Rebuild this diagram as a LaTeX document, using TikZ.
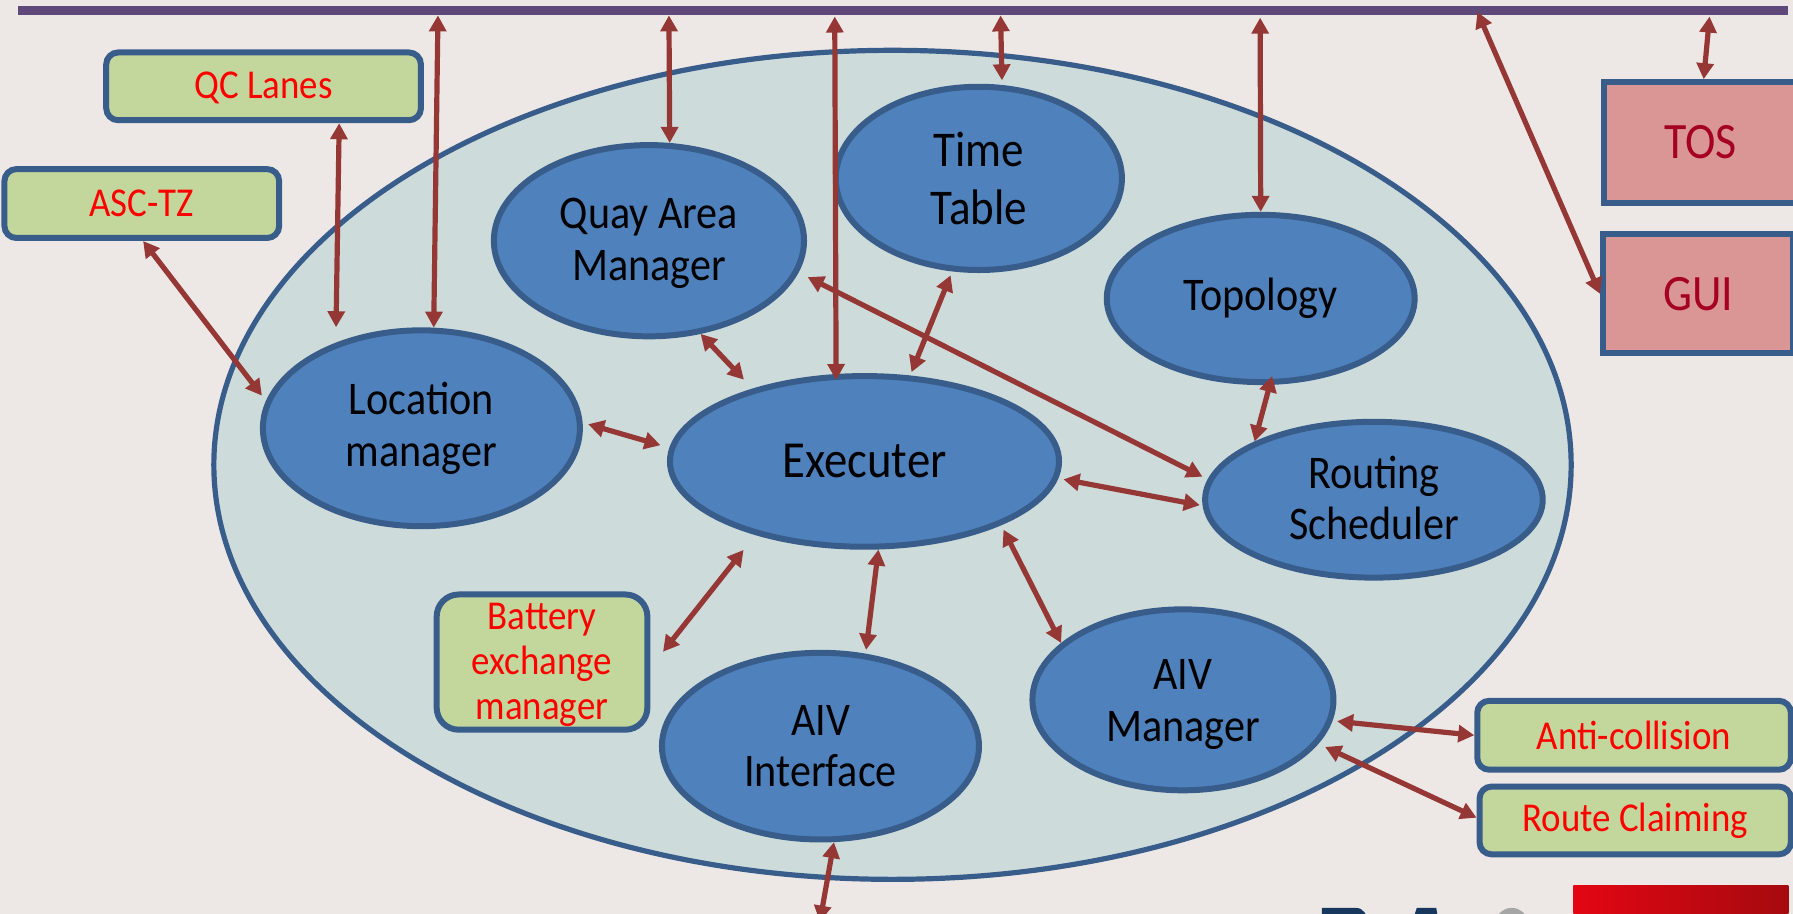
\documentclass[tikz,border=0pt]{standalone}
\usepackage{fontspec}
\setmainfont[FakeStretch=0.9]{Carlito}
\usetikzlibrary{shapes.geometric,arrows.meta,calc}
\definecolor{bgc}{HTML}{EDE8E6}
\definecolor{sysfill}{HTML}{CEDBDB}
\definecolor{edgeblue}{HTML}{385D8A}
\definecolor{modfill}{HTML}{4F81BD}
\definecolor{greenfill}{HTML}{C3D69B}
\definecolor{pinkfill}{HTML}{D99694}
\definecolor{pinktext}{HTML}{A50021}
\definecolor{arrowc}{HTML}{953735}
\definecolor{barc}{HTML}{5F497A}
\definecolor{logoblue}{HTML}{17375E}
\definecolor{logogrey}{HTML}{A6A6A6}
\definecolor{logored}{HTML}{E30613}
\definecolor{logodark}{HTML}{A50A0F}
\newcommand{\nudge}[2]{\raisebox{#1}[\height][\depth]{\begin{tabular}{@{}c@{}}#2\end{tabular}}}
\tikzset{
  x=0.57175pt, y=-0.57175pt,
  sz/.style 2 args={minimum width=(#1-3.75)*0.57175pt, minimum height=(#2-3.75)*0.57175pt},
  module/.style={ellipse, draw=edgeblue, fill=modfill, line width=3pt, inner sep=0pt, align=center, text=black, font=\fontsize{23.4}{25.7}\selectfont},
  greenbox/.style={rectangle, rounded corners=6pt, draw=edgeblue, fill=greenfill, line width=3pt, inner sep=0pt, align=center, text=red, font=\fontsize{20.5}{22.5}\selectfont},
  pinkbox/.style={rectangle, draw=edgeblue, fill=pinkfill, line width=3pt, inner sep=0pt, align=center, text=pinktext, font=\fontsize{25.5}{28}\selectfont},
  conn/.style={draw=arrowc, line width=2.6pt, {Triangle[length=8pt,width=8.4pt]}-{Triangle[length=8pt,width=8.4pt]}},
}
\begin{document}
\begin{tikzpicture}
\useasboundingbox (0,0) rectangle (1568,799.3);
\fill[bgc] (0,0) rectangle (1568,799.3);
% partial logo at the bottom edge
\fill[logoblue] (1156,806) -- (1156,794) -- (1186,794) to[out=0,in=120] (1198,806) -- cycle;
\fill[logoblue] (1235,806) -- (1239,794) -- (1256,794) -- (1258,806) -- cycle;
\fill[logogrey] (1306,806) to[out=60,in=180] (1322,794) to[out=0,in=120] (1338,806) -- cycle;
\shade[left color=logored, right color=logodark] (1376,774) rectangle (1564,806);

\node[fill=barc, rectangle, inner sep=0pt, outer sep=0pt, minimum width=1547.5*0.57175pt, minimum height=8.5*0.57175pt] (bar) at (789.75,9.2) {};

\node[ellipse, draw=edgeblue, fill=sysfill, line width=2.6pt, inner sep=0pt, minimum width=1187*0.57175pt, minimum height=725*0.57175pt] (sys) at (780.5,406.5) {};

\node[module, sz={275}{171}] (quay) at (567.5,210.5) {\nudge{-1.7pt}{Quay Area\\Manager}};
\node[module, sz={254}{164}, font=\fontsize{25}{29}\selectfont] (time) at (856,156) {Time\\Table};
\node[module, sz={273}{150}] (topo) at (1102.5,261) {\nudge{-1.1pt}{Topology}};
\node[module, sz={281}{175}] (loc) at (368.5,374.5) {\nudge{-0.9pt}{Location\\manager}};
\node[module, sz={344}{153}, font=\fontsize{26}{29}\selectfont] (exec) at (756,403.5) {Executer};
\node[module, sz={299}{140}] (route) at (1201.5,437) {\nudge{-2pt}{Routing\\Scheduler}};
\node[module, sz={281}{167}] (iface) at (717.5,652.5) {AIV\\Interface};
\node[module, sz={267}{162}] (mgr) at (1034.5,612) {\nudge{-2.6pt}{AIV\\Manager}};

\node[greenbox, sz={279}{63}] (qc) at (230.5,75.5) {\nudge{-1.7pt}{QC Lanes}};
\node[greenbox, sz={244}{64}] (asc) at (124,178) {ASC-TZ};
\node[greenbox, sz={188}{122}, rounded corners=11pt] (batt) at (474,579) {\nudge{-1.7pt}{Battery\\exchange\\manager}};
\node[greenbox, sz={278}{64}] (anti) at (1429,643) {Anti-collision};
\node[greenbox, sz={276}{63}] (claim) at (1430,717.5) {Route Claiming};

\node[pinkbox, sz={172}{109}] (tos) at (1487,124.5) {TOS};
\node[pinkbox, sz={170}{108}] (gui) at (1485,257) {GUI};

\coordinate (down) at (717,806);

% links to the bar
\draw[conn] ($(bar.south west)+(367,0)$) -- (loc.83);
\draw[conn] ($(bar.south west)+(569,0)$) -- (quay.78.3);
\draw[conn, shorten >=-3pt] ($(bar.south west)+(714,1)$) -- (exec.108.3);
\draw[conn, shorten >=2.3pt] ($(bar.south west)+(859,0)$) -- (time.76.8);
\draw[conn] ($(bar.south west)+(1086,2)$) -- (topo.90);
\draw[conn] ($(bar.south west)+(1276,-3)$) -- (gui.west);
\draw[conn] ($(bar.south west)+(1479,1)$) -- (tos.87.4);
% outer boxes
\draw[conn, shorten >=7.7pt] (qc.-26.4) -- (loc.135.2);
\draw[conn, shorten >=3.3pt] (asc.-88) -- (loc.170.85);
% among modules
\draw[conn, shorten >=6.2pt] (quay.-61.1) -- (exec.147.7);
\draw[conn, shorten <=2.1pt, shorten >=1.8pt] (time.-106.3) -- (exec.62.5);
\draw[conn, shorten <=5.1pt, shorten >=2.9pt] (quay.-12.4) -- (route.173.4);
\draw[conn, shorten <=-4.6pt] (topo.-84.3) -- (route.154.6);
\draw[conn, shorten <=2.9pt, shorten >=4.6pt] (loc.2.9) -- (exec.176.7);
\draw[conn, shorten <=2.6pt, shorten >=1.4pt] (exec.-5.7) -- (route.182.5);
\draw[conn, shorten <=9.5pt, shorten >=10.2pt] (exec.-146.4) -- (batt.-3);
\draw[conn, shorten >=1.9pt] (exec.-81.9) -- (iface.64);
\draw[conn, shorten <=2.5pt] (exec.-25.2) -- (mgr.155.1);
\draw[conn, shorten <=2.3pt] (mgr.-8.5) -- (anti.west);
\draw[conn, shorten <=3.7pt] (mgr.-18.7) -- (claim.179);
\draw[conn] (iface.-82.1) -- (down);
\end{tikzpicture}
\end{document}
